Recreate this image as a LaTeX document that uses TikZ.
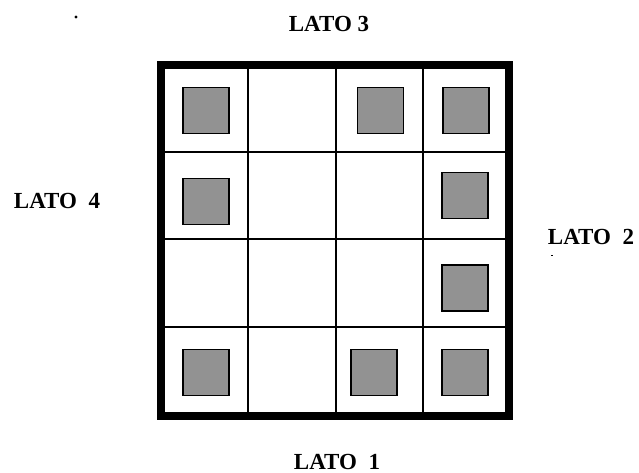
\documentclass[tikz,border=0pt]{standalone}
\usepackage{fontspec}
\setmainfont{Liberation Serif}
\definecolor{grigio}{RGB}{146,146,146}
\tikzset{
  lato/.style={font=\fontsize{23}{27}\selectfont\bfseries, inner sep=0pt},
  pezzo/.style={draw=black, line width=1.6pt, fill=grigio, minimum size=46pt, inner sep=0pt},
}
\begin{document}
\begin{tikzpicture}[x=1pt, y=-1pt]
    \useasboundingbox (0,0) rectangle (639,473);
    % righe e colonne interne
    \foreach \c in {248,336,423}
      \draw[line width=2pt] (\c,65) -- (\c,416);
    \foreach \r in {152,239,327}
      \draw[line width=2pt] (161,\r) -- (509,\r);
    % bordo esterno
    \draw[line width=8pt] (161,65) rectangle (509,416);
    % pezzi
    \foreach \x/\y [count=\i] in {206/110.5, 380.5/110.5, 466/110.5,
                                  206/201.5, 465/195.5, 465/288,
                                  206/372.5, 374/372.5, 465/372.5}
      \node[pezzo] (p\i) at (\x,\y) {};
    % lati
    \node[lato] (lato3) at (329,24) {LATO 3};
    \node[lato] (lato4) at (57,201) {LATO\ \ 4};
    \node[lato] (lato2) at (591,237) {LATO\ \ 2};
    \node[lato] (lato1) at (337,462) {LATO\ \ 1};
    \fill (76,17) circle (1.6pt);
    \fill (551,254.5) rectangle (553,256);
\end{tikzpicture}
\end{document}
